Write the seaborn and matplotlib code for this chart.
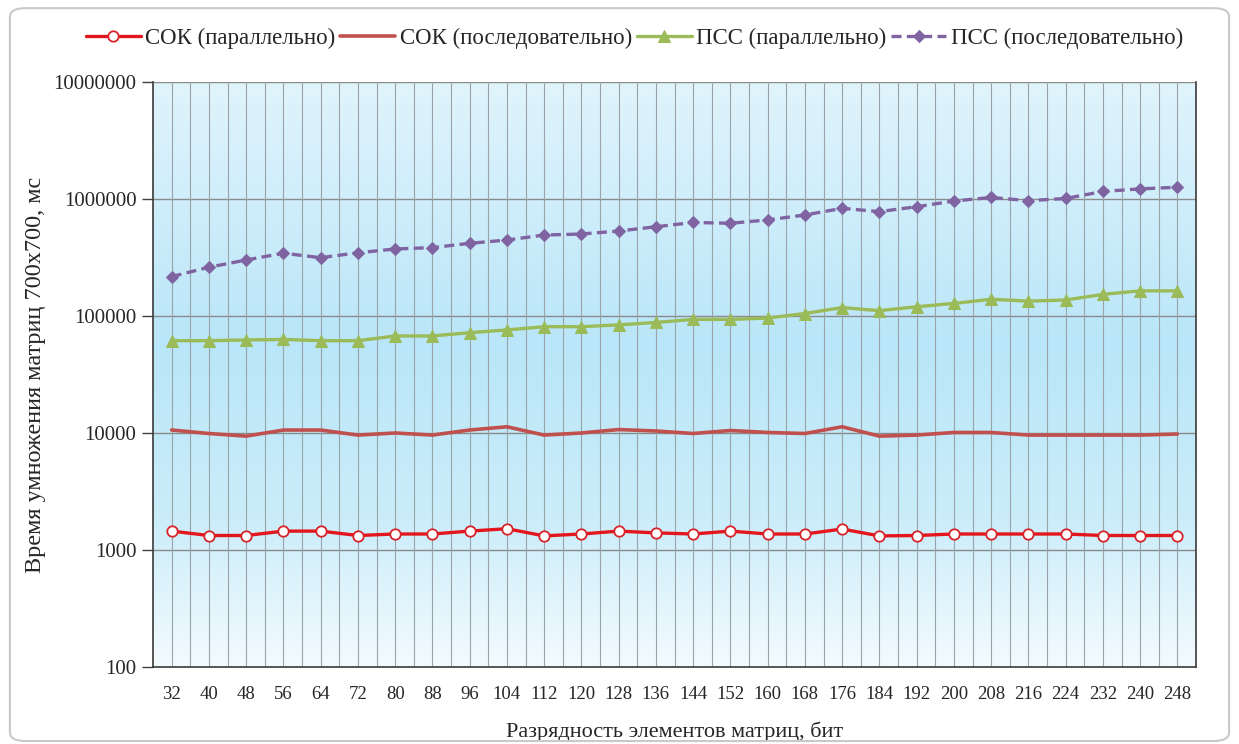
import numpy as np
import pandas as pd
import matplotlib
matplotlib.use("Agg")
import matplotlib.pyplot as plt
from matplotlib.patches import FancyBboxPatch
from matplotlib.colors import LinearSegmentedColormap
from matplotlib.ticker import FixedLocator, FixedFormatter, NullLocator
import seaborn as sns

# Разрядность элементов матриц, бит
bits = [32, 40, 48, 56, 64, 72, 80, 88, 96, 104, 112, 120, 128, 136,
        144, 152, 160, 168, 176, 184, 192, 200, 208, 216, 224, 232, 240, 248]

# Время умножения матриц 700x700, мс
sok_parallel = [1450, 1330, 1330, 1450, 1450, 1330, 1370, 1370, 1450, 1520,
                1320, 1370, 1450, 1400, 1370, 1450, 1370, 1370, 1510, 1320,
                1330, 1370, 1370, 1370, 1370, 1330, 1330, 1330]
sok_sequential = [10600, 9900, 9400, 10600, 10600, 9600, 10000, 9600, 10600, 11300,
                  9600, 10000, 10700, 10400, 9900, 10500, 10100, 9900, 11300, 9400,
                  9600, 10100, 10100, 9600, 9600, 9600, 9600, 9800]
pss_parallel = [61500, 61500, 62400, 63000, 61500, 61500, 67500, 67500, 72000, 76000,
                81000, 81000, 84000, 88000, 93500, 93500, 96000, 105000, 118000, 111000,
                120000, 128000, 139000, 134000, 137000, 153000, 164000, 164000]
pss_sequential = [217000, 261000, 301000, 344000, 315000, 347000, 374000, 384000, 418000, 446000,
                  492000, 502000, 532000, 579000, 630000, 620000, 662000, 730000, 832000, 780000,
                  859000, 961000, 1030000, 968000, 1010000, 1160000, 1220000, 1260000]

series_names = ["СОК (параллельно)", "СОК (последовательно)",
                "ПСС (параллельно)", "ПСС (последовательно)"]

y_ticks = [100, 1000, 10000, 100000, 1000000, 10000000]
y_tick_labels = ["100", "1000", "10000", "100000", "1000000", "10000000"]

x_label = "Разрядность элементов матриц, бит"
y_label = "Время умножения матриц 700x700, мс"

sns.set_theme(style="white")
plt.rcParams["font.family"] = ["Liberation Serif", "DejaVu Serif"]

fig = plt.figure(figsize=(12.39, 7.44), dpi=100)
fig.patch.set_facecolor("white")

# rounded frame around the whole chart
frame = FancyBboxPatch((0.008, 0.004), 0.984, 0.985,
                       boxstyle="round,pad=0,rounding_size=0.012",
                       transform=fig.transFigure, facecolor="none",
                       edgecolor="#c9c9c9", linewidth=1.5, zorder=0)
fig.patches.append(frame)

ax = fig.add_axes([0.1235, 0.1035, 0.8418, 0.7863])

# vertical gradient fill of the plot area
grad_cmap = LinearSegmentedColormap.from_list(
    "plot_bg",
    [(0.0, "#f3fbfe"), (0.25, "#cbedfa"), (0.55, "#b9e6f8"),
     (0.8, "#d0eefb"), (1.0, "#e0f4fc")])
grad = np.linspace(0, 1, 256).reshape(-1, 1)
ax.imshow(grad, aspect="auto", cmap=grad_cmap, origin="lower",
          extent=[0, 1, 0, 1], transform=ax.transAxes, zorder=0)

df = pd.DataFrame({"bits": bits,
                   series_names[0]: sok_parallel,
                   series_names[1]: sok_sequential,
                   series_names[2]: pss_parallel,
                   series_names[3]: pss_sequential})

sns.lineplot(data=df, x="bits", y=series_names[0], ax=ax, color="#e3161e",
             linewidth=2.4, marker="o", markersize=7.5, markerfacecolor="white",
             markeredgecolor="#d9232b", markeredgewidth=1.3,
             label=series_names[0], zorder=5)
sns.lineplot(data=df, x="bits", y=series_names[1], ax=ax, color="#c0504d",
             linewidth=2.6, label=series_names[1], zorder=4)
sns.lineplot(data=df, x="bits", y=series_names[2], ax=ax, color="#9bbb59",
             linewidth=2.4, marker="^", markersize=8, markeredgecolor="#9bbb59",
             label=series_names[2], zorder=4)
sns.lineplot(data=df, x="bits", y=series_names[3], ax=ax, color="#8064a2",
             linewidth=2.4, linestyle=(0, (3, 1.6)), marker="D", markersize=6.5,
             markeredgecolor="#8064a2", label=series_names[3], zorder=4)

ax.set_yscale("log")
ax.set_ylim(100, 10000000)
ax.set_xlim(bits[0] - 4, bits[-1] + 4)

ax.yaxis.set_major_locator(FixedLocator(y_ticks))
ax.yaxis.set_major_formatter(FixedFormatter(y_tick_labels))
ax.yaxis.set_minor_locator(NullLocator())
ax.set_xticks(bits)
ax.set_xticklabels([str(b) for b in bits])

# grid lines: horizontal at decades, vertical at every half step
for yv in y_ticks[1:]:
    ax.axhline(yv, color="#8a8a8a", linewidth=1.0, zorder=1)
for xv in np.arange(bits[0] - 4, bits[-1] + 5, 4)[1:-1]:
    ax.axvline(xv, color="#9aa4a8", linewidth=0.8, zorder=1)

ax.tick_params(axis="y", which="major", length=8, width=1, color="#404040",
               direction="out", labelsize=15, pad=4, left=True)
ax.tick_params(axis="x", which="both", length=0, labelsize=13.5, pad=14)

for side in ["left", "bottom", "right"]:
    ax.spines[side].set_visible(True)
    ax.spines[side].set_color("#3a3a3a")
    ax.spines[side].set_linewidth(1.2)
ax.spines["top"].set_visible(False)

ax.set_xlabel(x_label, fontsize=16, labelpad=13)
ax.set_ylabel(y_label, fontsize=17.5, labelpad=5)

handles, labels = ax.get_legend_handles_labels()
ax.legend_.remove()
fig.legend(handles, labels, loc="center", bbox_to_anchor=(0.512, 0.948),
           ncol=4, frameon=False, fontsize=16.5, handlelength=2.4,
           handletextpad=0.2, columnspacing=0.2, borderaxespad=0)

fig.savefig("out.png", dpi=100, facecolor="white")
